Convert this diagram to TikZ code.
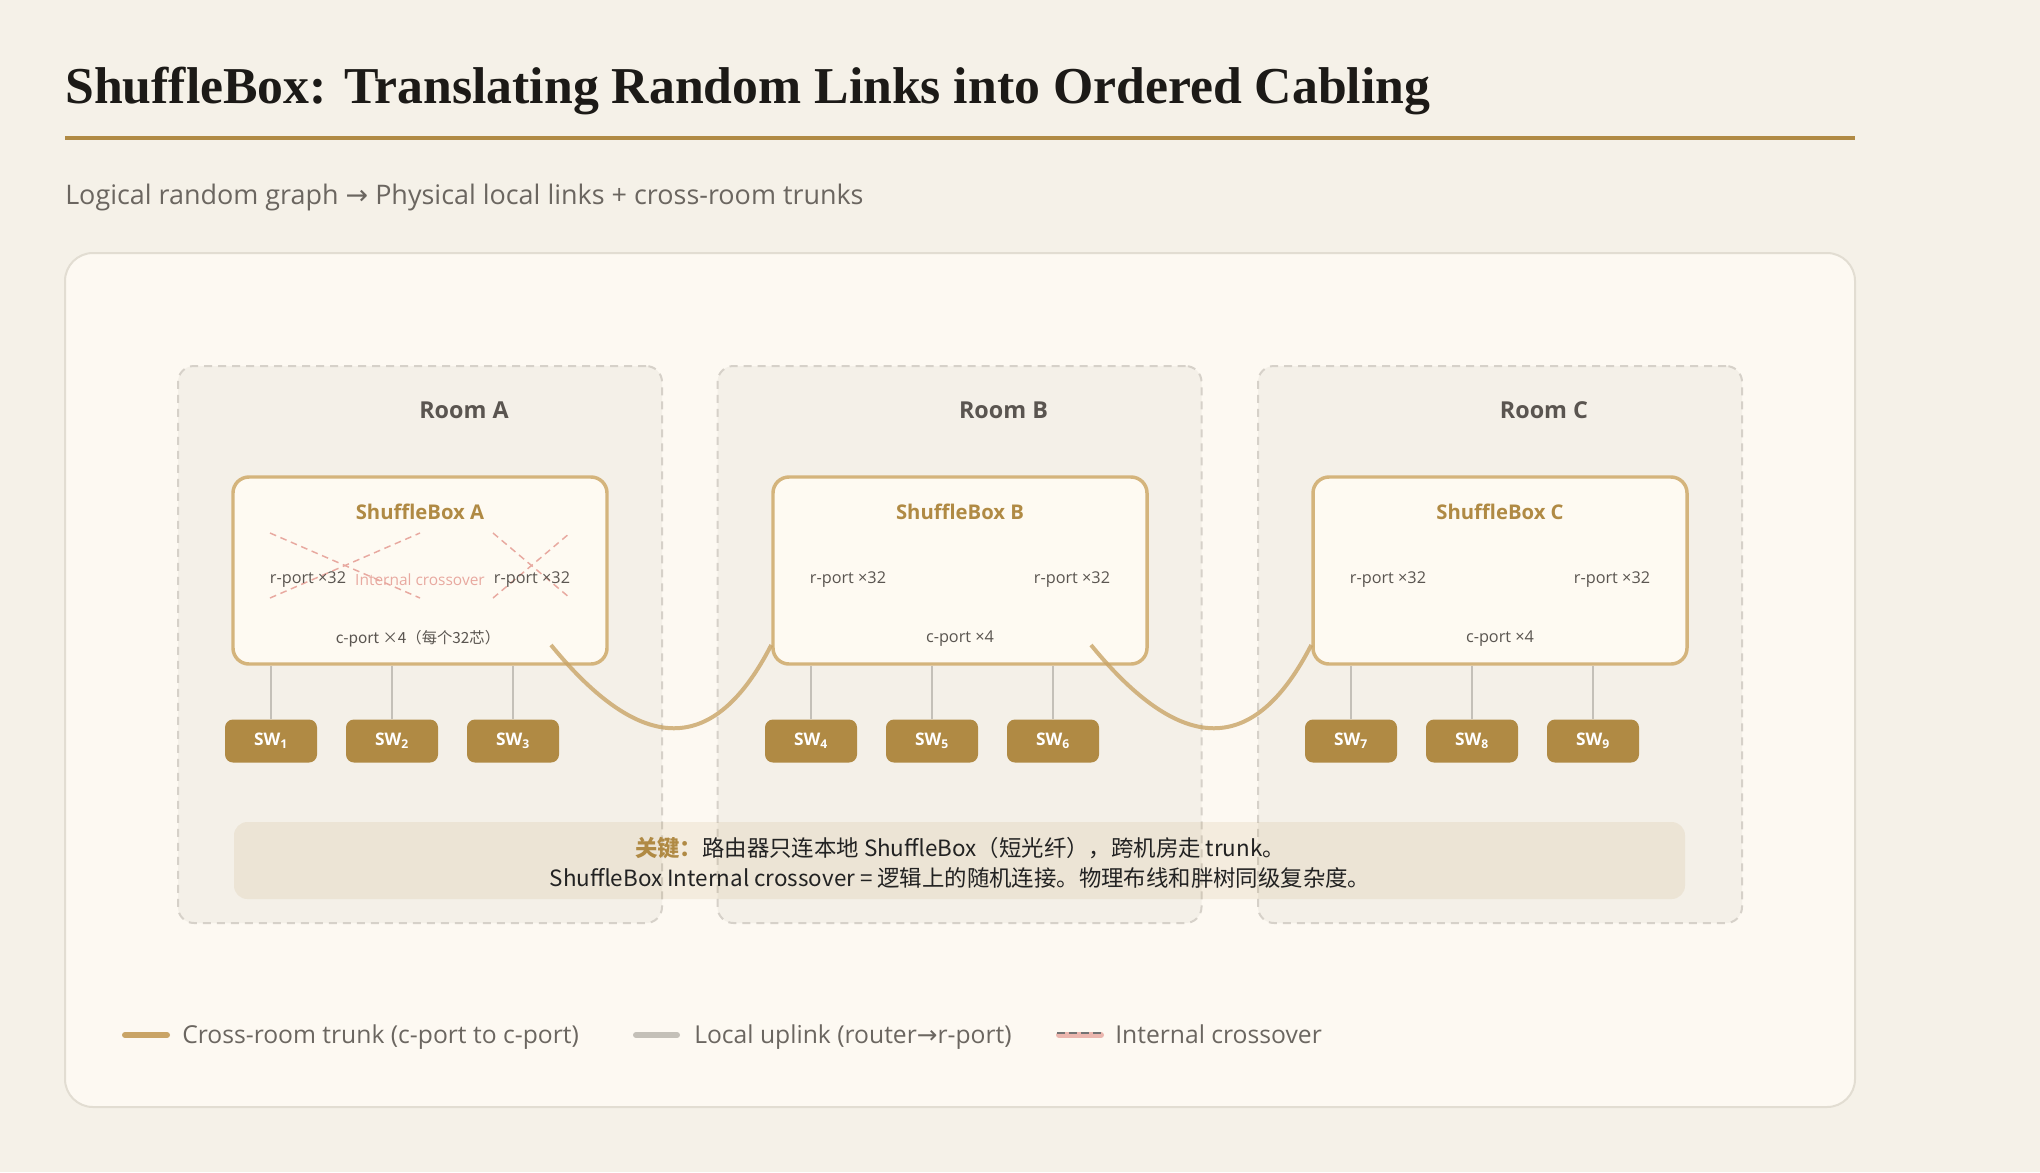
\documentclass[tikz,border=0pt]{standalone}
\usepackage{fontspec}
\setmainfont{Open Sans}
\newfontfamily\titlefont{Liberation Serif}
\newfontfamily\cjk{Noto Sans CJK SC}
\newfontfamily\dejavu{DejaVu Sans}
\usetikzlibrary{calc}
\definecolor{pagebg}{HTML}{F5F1E8}
\definecolor{panelbg}{HTML}{FDF9F2}
\definecolor{panelline}{HTML}{E2DDD2}
\definecolor{roombg}{HTML}{F4F0E8}
\definecolor{roomline}{HTML}{D6D1C9}
\definecolor{gold}{HTML}{B08A44}
\definecolor{sbline}{HTML}{D4B47C}
\definecolor{sbfill}{HTML}{FEFAF2}
\definecolor{trunkc}{HTML}{C9A466}
\definecolor{upgray}{HTML}{C4C0B8}
\definecolor{pinkc}{HTML}{E8A9A0}
\definecolor{titlec}{HTML}{1C1A17}
\definecolor{subc}{HTML}{6B6660}
\definecolor{labc}{HTML}{5A5550}
\definecolor{darkc}{HTML}{222222}
\begin{document}
\begin{tikzpicture}[x=0.75pt,y=-0.75pt,
  room/.style={draw=roomline, line width=1.5pt, dash pattern=on 6pt off 4.5pt, fill=roombg, rounded corners=12pt, minimum width=484*0.75pt, minimum height=557*0.75pt, inner sep=0},
  sbox/.style={draw=sbline, line width=2.6pt, fill=sbfill, rounded corners=12pt, minimum width=374*0.75pt, minimum height=187*0.75pt, inner sep=0},
  swbox/.style={fill=gold, rounded corners=6pt, minimum width=92*0.75pt, minimum height=43*0.75pt, inner sep=0, text=white, font=\bfseries\fontsize{13}{15}\selectfont},
  uplink/.style={draw=upgray, line width=1.5pt},
  trunk/.style={draw=trunkc, line width=3pt, draw opacity=0.8},
  xover/.style={draw=pinkc, line width=1.1pt, dash pattern=on 5pt off 3.5pt},
  roomlab/.style={font=\bfseries\fontsize{17.5}{21}\selectfont, text=labc},
  sbtitle/.style={font=\bfseries\fontsize{15.2}{18}\selectfont, text=gold},
  portlab/.style={font=\fontsize{12.2}{14}\selectfont, text=labc},
  leglab/.style={anchor=base west, inner sep=0, font=\fontsize{18.5}{22}\selectfont, text=subc}
]
\fill[pagebg] (0,0) rectangle (2040,1172);
\useasboundingbox (0,0) rectangle (2040,1172);

% title
\node[anchor=base west, inner sep=0, font=\titlefont\bfseries\fontsize{38.8}{44}\selectfont, text=titlec] (title) at (65,103) {ShuffleBox: Translating Random Links into Ordered Cabling};
\draw[gold, line width=3pt] (65,138) -- (1855,138);
\node[anchor=base west, inner sep=0, font=\fontsize{20.2}{24}\selectfont, text=subc] (subtitle) at (65,204) {Logical random graph {\dejavu →} Physical local links + cross-room trunks};

% panel
\draw[fill=panelbg, draw=panelline, line width=1.5pt, rounded corners=21pt] (65,253) rectangle (1855,1107);

% rooms
\foreach \r/\rx/\cx/\a/\b/\c in {A/420/420/1/2/3, B/959.5/960/4/5/6, C/1500/1500/7/8/9}{
  \node[room] (room\r) at (\rx,644.5) {};
  \node[roomlab] (roomlab\r) at (\rx+44,410) {Room \r};
  \node[sbox] (sb\r) at (\cx,570.5) {};
  \node[sbtitle] (sbt\r) at (\cx,512) {ShuffleBox \r};
  \node[swbox] (sw\a) at (\cx-149,741) {SW\textsubscript{\a}};
  \node[swbox] (sw\b) at (\cx-28,741) {SW\textsubscript{\b}};
  \node[swbox] (sw\c) at (\cx+93,741) {SW\textsubscript{\c}};
  \foreach \s in {\a,\b,\c}{
    \draw[uplink] (sw\s.north) -- (sw\s.north |- sb\r.south);
  }
}

% crossover in A
\coordinate (xa1) at (270,533); \coordinate (xa2) at (420,598);
\coordinate (xa3) at (270,598); \coordinate (xa4) at (420,533);
\coordinate (xb1) at (493,533); \coordinate (xb2) at (570,598);
\coordinate (xb3) at (493,598); \coordinate (xb4) at (570,533);
\draw[xover] (xa1) -- (xa2); \draw[xover] (xa3) -- (xa4);
\draw[xover] (xb1) -- (xb2); \draw[xover] (xb3) -- (xb4);

% port labels
\foreach \r/\cx in {A/420, B/960, C/1500}{
  \node[portlab] (rpl\r) at (\cx-112,580) {r-port ×32};
  \node[portlab] (rpr\r) at (\cx+112,580) {r-port ×32};
}
\node[portlab, text=pinkc, font=\fontsize{11.6}{14}\selectfont] (xlab) at (420,580) {Internal crossover};
\node[portlab, font=\cjk\fontsize{11.5}{14}\selectfont] (cpA) at (418,639) {c-port ×4（每个32芯）};
\node[portlab] (cpB) at (960,639) {c-port ×4};
\node[portlab] (cpC) at (1500,639) {c-port ×4};

% trunks
\coordinate (tA) at (551,645);
\coordinate (tB) at (1091,645);
\draw[trunk] (tA) .. controls +(91,111) and +(-57,111) .. (sbB.west |- tA);
\draw[trunk] (tB) .. controls +(91,111) and +(-57,111) .. (sbC.west |- tB);

% note
\fill[gold, fill opacity=0.11, rounded corners=10pt] (234,822) rectangle (1685,899);
\node[inner sep=0, font=\cjk\fontsize{16.8}{20}\selectfont, text=darkc] (note1) at (960,848) {{\color{gold}\bfseries 关键：}路由器只连本地 ShuffleBox（短光纤），跨机房走 trunk。};
\node[inner sep=0, font=\cjk\fontsize{16.8}{20}\selectfont, text=darkc] (note2) at (960,878) {ShuffleBox Internal crossover = 逻辑上的随机连接。物理布线和胖树同级复杂度。};

% legend
\draw[trunkc, line width=4.5pt, line cap=round] (125,1035) -- (167,1035);
\node[leglab] (leg1) at (182,1043) {Cross-room trunk (c-port to c-port)};
\draw[upgray, line width=4.5pt, line cap=round] (636,1035) -- (677,1035);
\node[leglab] (leg2) at (694,1043) {Local uplink (router{\dejavu →}r-port)};
\draw[pinkc!85, line width=4.5pt, line cap=round] (1059,1035) -- (1101,1035);
\draw[black!55, line width=1.5pt, dash pattern=on 6pt off 3pt] (1057,1033) -- (1103,1033);
\node[leglab] (leg3) at (1115,1043) {Internal crossover};
\end{tikzpicture}
\end{document}
